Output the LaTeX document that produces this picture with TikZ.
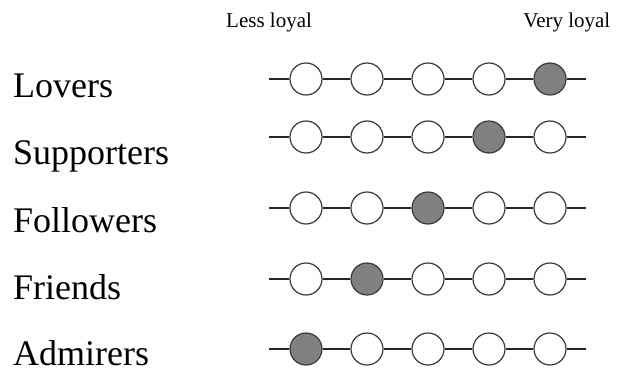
\documentclass[tikz,border=0pt]{standalone}
\usepackage{fontspec}
\setmainfont{Liberation Serif}
\definecolor{dotfill}{HTML}{808080}
\definecolor{ringcol}{HTML}{3A3A3A}
\tikzset{
  ring/.style={circle, draw=ringcol, line width=1.2pt, fill=white, minimum size=32pt, inner sep=0pt},
  ringon/.style={ring, fill=dotfill},
  scaleline/.style={draw=black!85, line width=1.2pt},
  rowlabel/.style={anchor=base west, inner sep=0pt, text depth=0pt, font=\fontsize{36}{40}\selectfont},
  headlabel/.style={inner sep=0pt, font=\fontsize{21}{24}\selectfont}
}
\begin{document}
\begin{tikzpicture}[x=1pt,y=1pt]
\useasboundingbox (0,0) rectangle (621,-372);
\node[headlabel, anchor=base west] (less) at (226,-27.7) {Less loyal};
\node[headlabel, anchor=base east] (very) at (610.5,-27.7) {Very loyal};
\foreach \r/\lab/\ly/\cy/\on in {1/Lovers/97/79/5, 2/Supporters/164/137/4, 3/Followers/232/208/3, 4/Friends/299/279/2, 5/Admirers/365/349/1} {
  \node[rowlabel] (lab\r) at (13,-\ly) {\lab};
  \coordinate (s\r) at (269,-\cy);
  \coordinate (e\r) at (586,-\cy);
  \foreach \c in {1,...,5} {
    \ifnum\c=\on
      \node[ringon] (r\r c\c) at ({306+61*(\c-1)},-\cy) {};
    \else
      \node[ring] (r\r c\c) at ({306+61*(\c-1)},-\cy) {};
    \fi
  }
  \draw[scaleline] (s\r) -- (r\r c1) -- (r\r c2) -- (r\r c3) -- (r\r c4) -- (r\r c5) -- (e\r);
}
\end{tikzpicture}
\end{document}
